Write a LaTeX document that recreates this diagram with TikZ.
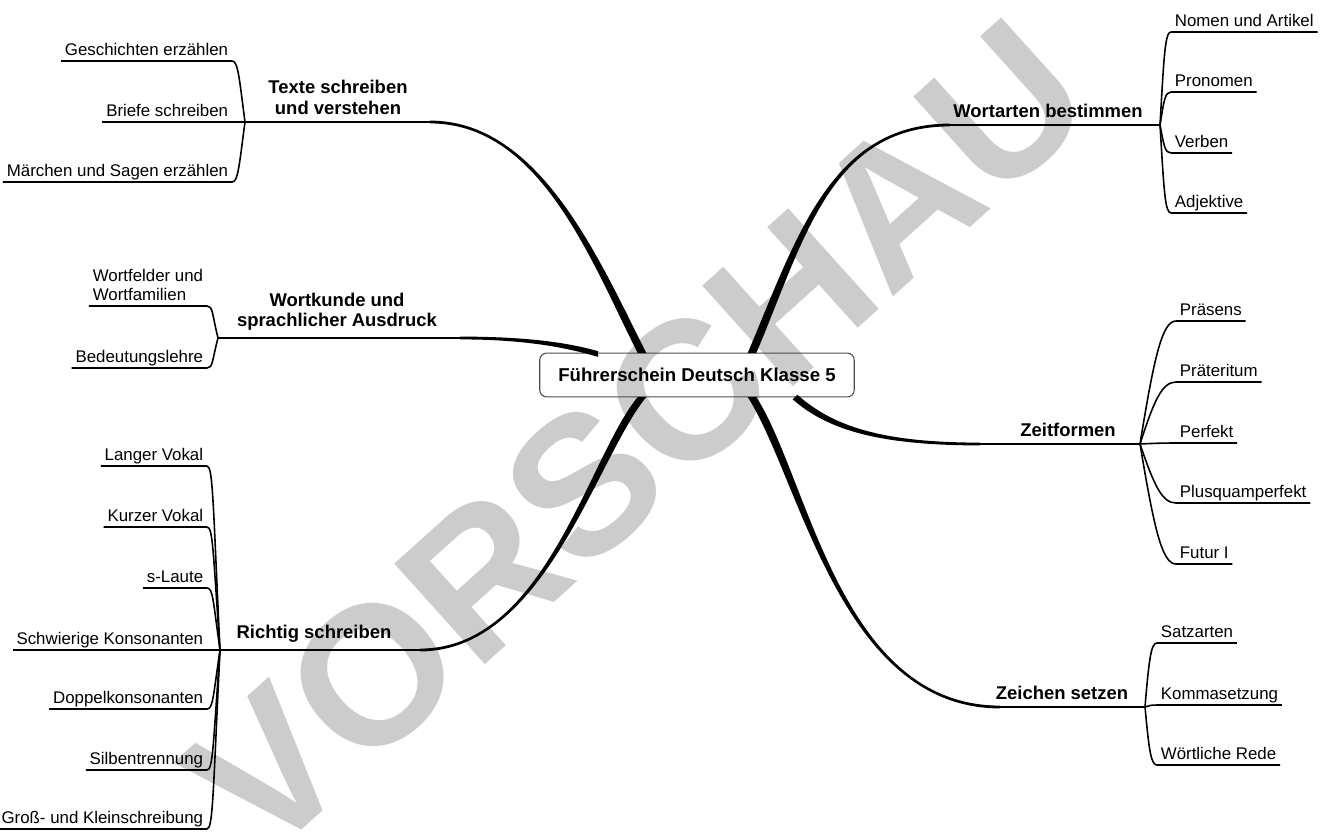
\documentclass[tikz,border=0pt]{standalone}
\usepackage{fontspec}
\setmainfont{Liberation Sans}
\usetikzlibrary{calc}

\begin{document}
\begin{tikzpicture}[x=0.02cm, y=-0.02cm, line join=round,
  root/.style={draw=black!70, line width=0.6pt, rounded corners=4pt,
    minimum width=179pt, minimum height=25pt,
    font=\fontsize{10.6}{12.5}\selectfont\bfseries},
  topic/.style={anchor=south, align=center, inner ysep=4pt,
    font=\fontsize{10.5}{11.8}\selectfont\bfseries},
  leaf/.style={align=left, inner xsep=2pt, inner ysep=3pt, text depth=0pt,
    font=\fontsize{9.6}{10.8}\selectfont},
  stem/.style={line width=1.6pt},
  twig/.style={line width=0.9pt},
  wmark/.style={text=black!20, rotate=42, inner sep=0pt,
    font=\fontsize{112}{112}\selectfont\bfseries}]

  \useasboundingbox (0,0) rectangle (1327,832);

  % watermark, behind everything
  \node[wmark] (wm) at (637,437) {VORSCHAU};

  % centre
  \node[root] (root) at (697,375) {Führerschein Deutsch Klasse 5};

  % main topics
  \node[topic] (ts) at (338,122) {Texte schreiben\\und verstehen};
  \node[topic] (wk) at (337,338) {Wortkunde und\\sprachlicher Ausdruck};
  \node[topic] (rs) at (314,650) {Richtig schreiben};
  \node[topic] (wb) at (1048,125) {Wortarten bestimmen};
  \node[topic] (zf) at (1068,444) {Zeitformen};
  \node[topic] (zs) at (1062,707) {Zeichen setzen};

  % junctions, stem ends, handles, ends at the box
  \coordinate (ts-j) at (245,122); \coordinate (ts-h) at (430,122);
  \coordinate (ts-a) at (540,122); \coordinate (ts-b) at (595,260);
  \coordinate (ts-r) at (642,353);
  \coordinate (wk-j) at (218,338); \coordinate (wk-h) at (460,338);
  \coordinate (wk-a) at (530,338); \coordinate (wk-b) at (570,346);
  \coordinate (wk-r) at (598,354);
  \coordinate (rs-j) at (220,650); \coordinate (rs-h) at (420,650);
  \coordinate (rs-a) at (545,650); \coordinate (rs-b) at (592,458);
  \coordinate (rs-r) at (642,397);
  \coordinate (wb-j) at (1160,125); \coordinate (wb-h) at (950,125);
  \coordinate (wb-a) at (830,125); \coordinate (wb-b) at (800,240);
  \coordinate (wb-r) at (752,353);
  \coordinate (zf-j) at (1140,444); \coordinate (zf-h) at (980,444);
  \coordinate (zf-a) at (880,444); \coordinate (zf-b) at (830,428);
  \coordinate (zf-r) at (795,397);
  \coordinate (zs-j) at (1145,707); \coordinate (zs-h) at (1000,707);
  \coordinate (zs-a) at (840,707); \coordinate (zs-b) at (805,480);
  \coordinate (zs-r) at (752,397);

  % stems and tapered branches
  \foreach \tp/\ox/\oy in {ts/4.3/0, wk/0/-2.8, rs/-4.3/0, wb/-4.3/0, zf/2.3/-2.3, zs/4.3/0}{
    \draw[stem] (\tp-j) -- (\tp-h);
    \fill ($(\tp-h)+(0,-1.4)$) .. controls ($(\tp-a)+(0,-1.4)$) and ($(\tp-b)+(\ox,\oy)$)
      .. ($(\tp-r)+(\ox,\oy)$) -- ($(\tp-r)-(\ox,\oy)$)
      .. controls ($(\tp-b)-(\ox,\oy)$) and ($(\tp-a)+(0,1.4)$) .. ($(\tp-h)+(0,1.4)$) -- cycle;
  }

  % left leaves
  \foreach \nm/\yy/\txt in {ge/61/Geschichten erzählen, br/122/Briefe schreiben,
      ma/182/Märchen und Sagen erzählen}{
    \node[leaf, anchor=south east] (\nm) at (232,\yy) {\txt};
    \draw[twig] (ts-j) .. controls +(-6,{0.75*(\yy-122)}) and +(6,0) .. (\nm.south east) -- (\nm.south west);
  }
  \foreach \nm/\yy/\txt in {wf/306/Wortfelder und\\Wortfamilien, bd/368/Bedeutungslehre}{
    \node[leaf, anchor=south east] (\nm) at (207,\yy) {\txt};
    \draw[twig] (wk-j) .. controls +(-6,{0.75*(\yy-338)}) and +(6,0) .. (\nm.south east) -- (\nm.south west);
  }
  \foreach \nm/\yy/\txt in {lv/466/Langer Vokal, kv/527/Kurzer Vokal, sl/588/s-Laute,
      sk/650/Schwierige Konsonanten, dk/709/Doppelkonsonanten, sb/770/Silbentrennung,
      gk/829/Groß- und Kleinschreibung}{
    \node[leaf, anchor=south east] (\nm) at (207,\yy) {\txt};
    \draw[twig] (rs-j) .. controls +(-7,{0.8*(\yy-650)}) and +(6,0) .. (\nm.south east) -- (\nm.south west);
  }

  % right leaves
  \foreach \nm/\yy/\txt in {na/32/Nomen und Artikel, pr/92/Pronomen, ve/153/Verben,
      ad/213/Adjektive}{
    \node[leaf, anchor=south west] (\nm) at (1171,\yy) {\txt};
    \draw[twig] (wb-j) .. controls +(4,{0.75*(\yy-125)}) and +(-6,0) .. (\nm.south west) -- (\nm.south east);
  }
  \foreach \nm/\yy/\txt in {pa/321/Präsens, pt/382/Präteritum, pe/443/Perfekt,
      pq/503/Plusquamperfekt, fu/564/Futur I}{
    \node[leaf, anchor=south west] (\nm) at (1176,\yy) {\txt};
    \draw[twig] (zf-j) .. controls +(14,{0.7*(\yy-444)}) and +(-14,0) .. (\nm.south west) -- (\nm.south east);
  }
  \foreach \nm/\yy/\txt in {sa/643/Satzarten, ko/705/Kommasetzung, wr/765/Wörtliche Rede}{
    \node[leaf, anchor=south west] (\nm) at (1157,\yy) {\txt};
    \draw[twig] (zs-j) .. controls +(4,{0.75*(\yy-707)}) and +(-6,0) .. (\nm.south west) -- (\nm.south east);
  }
\end{tikzpicture}
\end{document}
